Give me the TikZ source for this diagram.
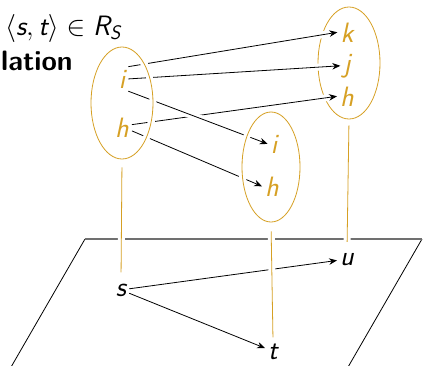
\documentclass[tikz,border=0pt]{standalone}
\usepackage{fix-cm}
\usepackage{amsmath}
\usetikzlibrary{arrows.meta,shapes.geometric}
\definecolor{gold}{RGB}{214,160,36}
\definecolor{rim}{RGB}{112,112,112}
\newcommand{\sfit}[1]{\textsf{\itshape #1}}
\tikzset{
  lbl/.style={font=\sffamily\itshape\fontsize{28}{32}\selectfont, anchor=base, inner sep=3pt},
  elm/.style={lbl, text=gold},
  set/.style={draw=gold, ellipse, line width=0.8pt, inner sep=0pt},
  gap/.style={preaction={draw=white, line width=7pt, -}},
  rel/.style={-{Stealth[length=8pt,width=6.5pt]}, line width=0.8pt},
  proj/.style={gold, line width=0.8pt},
}
\begin{document}
\begin{tikzpicture}[x=1pt,y=-1pt]
  \useasboundingbox (0,0) rectangle (423,365);
  \clip (0,0) rectangle (423,365);
  % the plane
  \coordinate (pa) at (85,239);
  \coordinate (pb) at (422,239);
  \coordinate (pc) at (329,400);
  \coordinate (pd) at (-8,400);
  \draw[line width=0.8pt] (pd) -- (pa) (pb) -- (pc);
  \draw[rim, line width=2pt] (pa) -- (pb);
  % heading
  \node[anchor=base west, inner sep=0pt, font=\fontsize{28}{32}\selectfont] (pair) at (5,35)
    {$\langle\sfit{s},\sfit{t}\rangle\in\sfit{R}_{\sfit{S}}$};
  \node[anchor=base west, inner sep=0pt, font=\sffamily\bfseries\fontsize{28}{32}\selectfont] (head) at (1,70) {lation};
  % elements
  \node[elm] (li) at (122,88)  {i};
  \node[elm] (lh) at (122,137) {h};
  \node[elm] (mi) at (274,153) {i};
  \node[elm] (mh) at (272,196) {h};
  \node[elm] (rk) at (347,42)  {k};
  \node[elm] (rj) at (347,72)  {j};
  \node[elm] (rh) at (347,106) {h};
  \node[lbl] (s) at (121,296) {s};
  \node[lbl] (t) at (273,359) {t};
  \node[lbl] (u) at (347,265) {u};
  \node[set, minimum width=62pt, minimum height=112pt] (rset) at (349,63) {};
  % relation arrows
  \draw[rel, gap] (li.north east) -- (rk.west);
  \draw[rel, gap] (li.east) -- (rj.west);
  \draw[rel, gap] (lh.15) -- (rh.west);
  \draw[rel, gap] (lh.-20) -- (mh.west);
  \draw[rel, gap] (li.south east) -- (mi.west);
  \node[set, gap, minimum width=62pt, minimum height=112pt] (lset) at (122,103) {};
  \node[set, gap, minimum width=58pt, minimum height=110pt] (mset) at (271,167) {};
  % in the plane
  \draw[rel] (s) -- (u);
  \draw[rel] (s) -- (t);
  \draw[proj, gap, shorten <=8pt, shorten >=8pt] (lset.south) -- (s.north);
  \draw[proj, gap, shorten <=9pt, shorten >=3pt] (mset.south) -- (t.north);
  \draw[proj, gap, shorten <=6pt, shorten >=8pt] (rset.south) -- (u.north);
\end{tikzpicture}
\end{document}
